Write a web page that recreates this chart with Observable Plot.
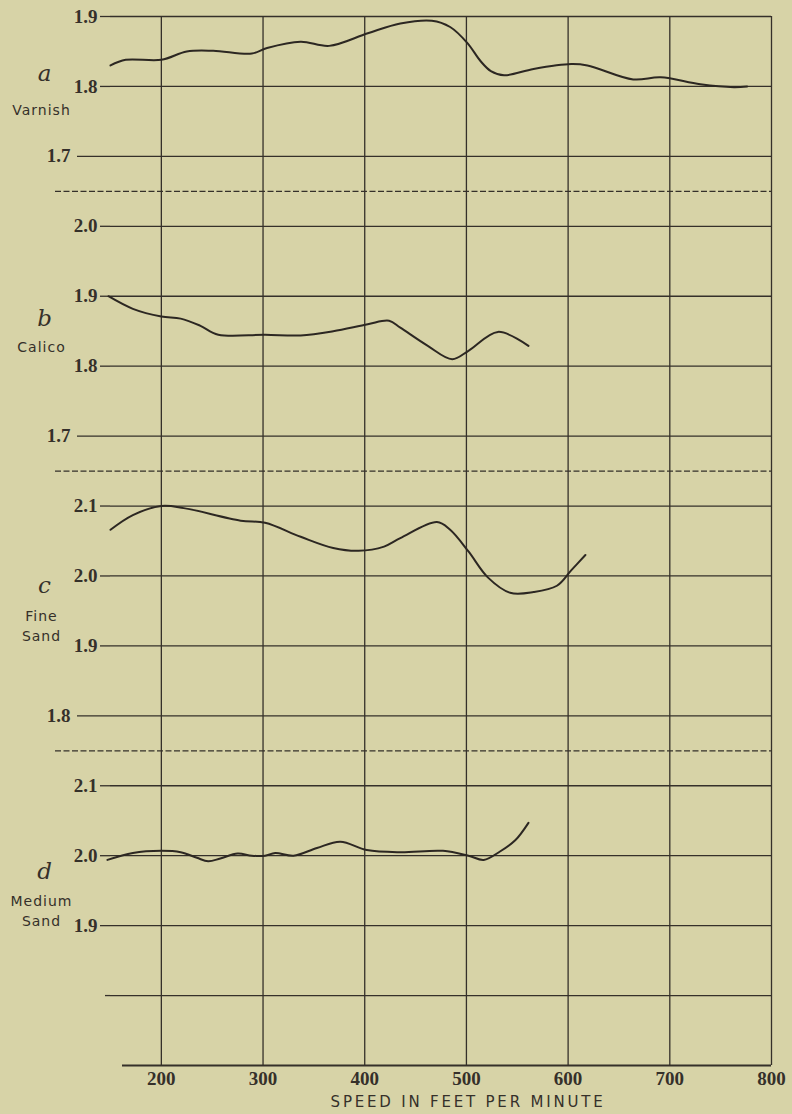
<!DOCTYPE html>
<html>
<head>
<meta charset="utf-8">
<script src="https://cdn.jsdelivr.net/npm/d3@7"></script>
<script src="https://cdn.jsdelivr.net/npm/@observablehq/plot@0.6"></script>
<style>
  html, body { margin: 0; padding: 0; background: #d7d3a7; }
  #chart svg { display: block; }
</style>
</head>
<body>
<div id="chart"></div>
<script>
// ---- data ----
const xTicks = [200, 300, 400, 500, 600, 700, 800];
const axisTitle = "SPEED IN FEET PER MINUTE";

const panelLetters = ["a", "b", "c", "d"];
const panelNames = ["Varnish", "Calico", "Fine\nSand", "Medium\nSand"];
const panelTopValue = [1.9, 2.0, 2.1, 2.1];
const panelTopRow = [0, 3, 7, 11];

const tickLabelsA = ["1.9", "1.8", "1.7"];
const tickLabelsB = ["2.0", "1.9", "1.8", "1.7"];
const tickLabelsC = ["2.1", "2.0", "1.9", "1.8"];
const tickLabelsD = ["2.1", "2.0", "1.9"];

const speedA = [150, 165, 200, 225, 251, 289, 304, 337, 365, 403, 435, 466, 484, 501, 514, 524, 537, 566, 603, 619, 664, 691, 730, 763, 776];
const varnish = [1.830, 1.838, 1.838, 1.850, 1.851, 1.847, 1.855, 1.864, 1.858, 1.876, 1.890, 1.894, 1.885, 1.862, 1.836, 1.822, 1.816, 1.825, 1.832, 1.830, 1.810, 1.813, 1.803, 1.799, 1.800];

const speedB = [148, 172, 200, 219, 238, 256, 302, 337, 369, 403, 424, 435, 462, 486, 502, 531, 561];
const calico = [1.900, 1.882, 1.871, 1.868, 1.858, 1.845, 1.845, 1.844, 1.850, 1.860, 1.865, 1.855, 1.829, 1.810, 1.822, 1.849, 1.829];

const speedC = [150, 172, 200, 222, 278, 302, 337, 369, 394, 419, 435, 471, 484, 502, 521, 543, 566, 589, 603, 617];
const fineSand = [2.066, 2.087, 2.100, 2.097, 2.079, 2.076, 2.056, 2.040, 2.036, 2.042, 2.054, 2.077, 2.066, 2.035, 1.998, 1.976, 1.977, 1.986, 2.008, 2.030];

const speedD = [147, 172, 200, 219, 235, 246, 258, 275, 289, 302, 312, 330, 353, 376, 402, 435, 477, 502, 517, 533, 548, 561];
const mediumSand = [1.994, 2.004, 2.007, 2.005, 1.997, 1.992, 1.996, 2.003, 2.000, 2.000, 2.004, 2.000, 2.011, 2.020, 2.008, 2.005, 2.007, 2.000, 1.994, 2.006, 2.022, 2.047];

// ---- layout (label placement in row units) ----
const letterRow = [0.82, 4.32, 8.14, 12.23];
const nameRow = [1.32, 4.70, 8.69, 12.77];

// ---- derived structures ----
const ink = "#35302a";
const toRow = (p, v) => panelTopRow[p] + (panelTopValue[p] - v) * 10;
const series = [[speedA, varnish], [speedB, calico], [speedC, fineSand], [speedD, mediumSand]]
  .map(([s, v], p) => s.map((x, i) => ({speed: x, row: toRow(p, v[i]), panel: panelLetters[p]})));

const tickSets = [tickLabelsA, tickLabelsB, tickLabelsC, tickLabelsD]
  .map((labels, p) => labels.map(l => ({row: Math.round(toRow(p, +l)), label: l})));
const labelByRow = new Map(tickSets.flat().map(d => [d.row, d.label]));
const farTicks = tickSets.slice(0, 3).map(t => t[t.length - 1].row);
const nearTicks = tickSets.flatMap((t, i) => (i < 3 ? t.slice(0, -1) : t)).map(d => d.row);
const lastRow = panelTopRow[3] + 4;
const gridRows = d3.range(0, lastRow);
const separatorRows = panelTopRow.slice(1).map(r => r - 0.5);
const panelInfo = panelLetters.map((l, i) => ({letter: l, name: panelNames[i], lr: letterRow[i], nr: nameRow[i]}));

const tickFont = {fontFamily: "'Liberation Serif', serif", fontSize: 19, fontWeight: "bold"};

const chart = Plot.plot({
  width: 792,
  height: 1114,
  marginLeft: 110,
  marginRight: 21,
  marginTop: 16,
  marginBottom: 49,
  x: {domain: [150, 800]},
  y: {domain: [0, lastRow], reverse: true},
  style: {background: "transparent", color: ink, fontFamily: "'Liberation Serif', serif", fontSize: "19px", fontWeight: "bold", overflow: "visible"},
  marks: [
    Plot.gridY(gridRows, {stroke: ink, strokeOpacity: 1, strokeWidth: 1.3}),
    Plot.ruleY([lastRow], {stroke: ink, strokeWidth: 2.2, insetLeft: 12}),
    Plot.ruleY(separatorRows, {stroke: ink, strokeWidth: 1.2, strokeDasharray: "6,2.5", insetLeft: -55}),
    Plot.ruleX(xTicks, {y1: 0, y2: lastRow, stroke: ink, strokeWidth: 1.3}),
    Plot.axisY(nearTicks, {tickSize: 10, tickPadding: 3, tickFormat: r => labelByRow.get(r), strokeWidth: 1.3, label: null, ...tickFont}),
    Plot.axisY(farTicks, {tickSize: 33, tickPadding: 7, tickFormat: r => labelByRow.get(r), strokeWidth: 1.3, label: null, ...tickFont}),
    Plot.axisY([lastRow - 1], {tickSize: 5, tickFormat: () => "", strokeWidth: 1.3, label: null}),
    Plot.axisX(xTicks, {tickSize: 0, tickPadding: 6, label: null, ...tickFont}),
    Plot.text([axisTitle], {frameAnchor: "bottom", dx: 27, dy: 37, lineAnchor: "middle", fontFamily: "'DejaVu Sans', sans-serif", fontSize: 15, fontWeight: "normal", fill: ink}),
    ...series.map(d => Plot.line(d, {x: "speed", y: "row", curve: "catmull-rom", stroke: "#2c2722", strokeWidth: 2})),
    Plot.text(panelInfo, {y: "lr", text: "letter", frameAnchor: "left", dx: -66, textAnchor: "middle", fontFamily: "'DejaVu Serif', serif", fontStyle: "italic", fontWeight: "normal", fontSize: 23, fill: ink}),
    Plot.text(panelInfo, {y: "nr", text: "name", frameAnchor: "left", dx: -69, textAnchor: "middle", lineHeight: 1.45, fontFamily: "'DejaVu Sans', sans-serif", fontWeight: "normal", fontSize: 14, fill: ink})
  ]
});
document.getElementById("chart").append(chart);

// letter spacing for the sans-serif captions
const sv = d3.select(chart);
sv.selectAll("text").filter(function () { return this.textContent === axisTitle; })
  .attr("letter-spacing", "2.8px");
const nameSet = new Set(panelNames.map(n => n.replace("\n", "")));
sv.selectAll("text").filter(function () { return nameSet.has(this.textContent); })
  .attr("letter-spacing", "1px");
</script>
</body>
</html>
